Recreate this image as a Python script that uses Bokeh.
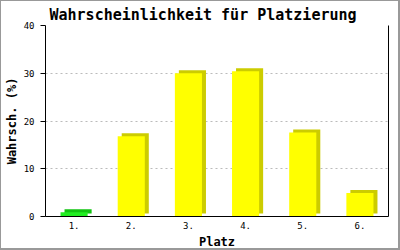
from bokeh.plotting import figure
from bokeh.models import ColumnDataSource, FactorRange, Range1d, LinearAxis, FixedTicker
from bokeh.transform import dodge
from bokeh.embed import file_html
from bokeh.resources import INLINE

places = ["1.", "2.", "3.", "4.", "5.", "6."]
probs = [0.9, 16.8, 30.0, 30.4, 17.6, 4.9]
colors = ["#22ee22", "#ffff00", "#ffff00", "#ffff00", "#ffff00", "#ffff00"]
shadow_colors = ["#11c411", "#cccc00", "#cccc00", "#cccc00", "#cccc00", "#cccc00"]
y_ticks = [0, 10, 20, 30, 40]

SH_DY = 0.64  # 3px at this scale
src = ColumnDataSource(dict(
    x=places, top=probs, c=colors, sc=shadow_colors,
    stop=[v + SH_DY for v in probs], sbot=[SH_DY] * len(probs),
))

mono = "DejaVu Sans Mono"
p = figure(x_range=FactorRange(*places), y_range=Range1d(0, 40),
           width=400, height=250, output_backend="svg", toolbar_location=None,
           min_border_left=42, min_border_right=13, min_border_top=24, min_border_bottom=34)
p.outline_line_color = None
p.background_fill_color = "white"
p.border_fill_color = "white"

p.vbar(x=dodge("x", 0.07, range=p.x_range), top="stop", bottom="sbot", width=0.474,
       fill_color="sc", line_color=None, source=src)
p.vbar(x="x", top="top", bottom=0, width=0.474, fill_color="c", line_color=None, source=src)

p.title.text = "Wahrscheinlichkeit für Platzierung"
p.title.text_font = mono
p.title.text_font_size = "15px"
p.title.text_font_style = "bold"
p.title.align = "left"
p.title.offset = 4
p.title.standoff = 4
p.title.text_color = "black"

p.xaxis.axis_label = "Platz"
p.yaxis.axis_label = "Wahrsch. (%)"
for ax in (p.xaxis, p.yaxis):
    ax.axis_label_text_font = mono
    ax.axis_label_text_font_size = "12px"
    ax.axis_label_text_font_style = "bold"
    ax.axis_label_text_color = "black"
    ax.major_label_text_font = mono
    ax.major_label_text_font_size = "9px"
    ax.major_label_text_color = "black"
    ax.axis_line_color = "black"
    ax.major_tick_line_color = "black"
    ax.minor_tick_line_color = None
    ax.major_tick_in = 0
p.xaxis.major_tick_out = 0
p.xaxis.major_label_standoff = 5
p.xaxis.axis_label_standoff = 3
p.yaxis.major_tick_out = 5
p.yaxis.major_label_standoff = 6
p.yaxis.axis_label_standoff = 2
p.yaxis.ticker = FixedTicker(ticks=y_ticks)

right = LinearAxis(ticker=FixedTicker(ticks=[]), major_label_text_font_size="0px",
                   major_tick_out=0, minor_tick_out=0, axis_line_color="black")
p.add_layout(right, "right")

p.xgrid.grid_line_color = None
p.ygrid.grid_line_color = "#bbbbbb"
p.ygrid.grid_line_dash = "2 3"
p.ygrid.ticker = FixedTicker(ticks=y_ticks[1:])

p.styles = {"border-style": "solid", "border-color": "#999999",
            "border-width": "1px 2px 2px 1px", "box-sizing": "border-box"}

open("out.html", "w").write(file_html(p, INLINE))
